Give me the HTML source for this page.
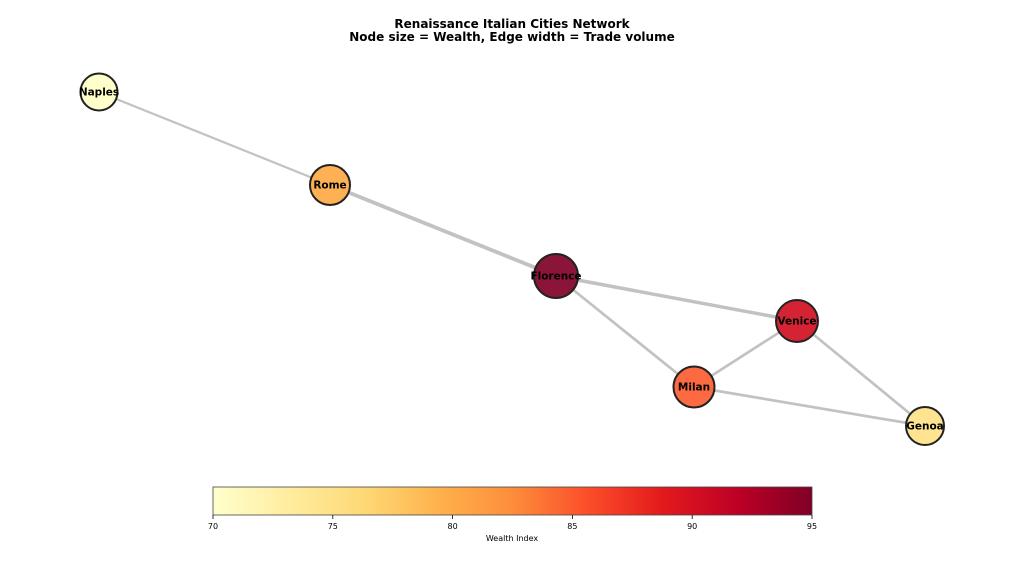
<!DOCTYPE html>
<html><head><meta charset="utf-8"><style>body{margin:0;background:#fff}svg{display:block}text{font-family:"DejaVu Sans","Liberation Sans",sans-serif}</style></head><body>
<svg width="1024" height="573" viewBox="0 0 1024 573" xmlns="http://www.w3.org/2000/svg">
<defs><linearGradient id="g" x1="0" x2="1" y1="0" y2="0">
<stop offset="0" stop-color="#ffffcc"/><stop offset="0.125" stop-color="#ffeda0"/><stop offset="0.25" stop-color="#fed976"/><stop offset="0.375" stop-color="#feb24c"/><stop offset="0.5" stop-color="#fd8d3c"/><stop offset="0.625" stop-color="#fc4e2a"/><stop offset="0.75" stop-color="#e31a1c"/><stop offset="0.875" stop-color="#bd0026"/><stop offset="1" stop-color="#800026"/></linearGradient></defs>
<text x="512" y="28" text-anchor="middle" font-size="12" font-weight="bold">Renaissance Italian Cities Network</text>
<text x="512" y="41" text-anchor="middle" font-size="12" font-weight="bold">Node size = Wealth, Edge width = Trade volume</text>
<g stroke="#bbb" stroke-opacity="0.9" fill="none">
<line x1="99" y1="92" x2="330" y2="185" stroke-width="2.2"/>
<line x1="330" y1="185" x2="556" y2="276" stroke-width="3.8"/>
<line x1="556" y1="276" x2="797" y2="321" stroke-width="3.5"/>
<line x1="556" y1="276" x2="694" y2="387" stroke-width="2.7"/>
<line x1="694" y1="387" x2="797" y2="321" stroke-width="2.7"/>
<line x1="797" y1="321" x2="925" y2="426" stroke-width="2.7"/>
<line x1="694" y1="387" x2="925" y2="426" stroke-width="2.7"/>
</g>
<g stroke="#222" stroke-width="2">
<circle cx="99" cy="92" r="18.5" fill="#ffffcc"/>
<circle cx="330" cy="185" r="20" fill="#feb054"/>
<circle cx="556" cy="276" r="22" fill="#8a1538"/>
<circle cx="797" cy="321" r="21" fill="#d42333"/>
<circle cx="694" cy="387" r="20.5" fill="#fd6940"/>
<circle cx="925" cy="426" r="19" fill="#fee391"/>
</g>
<g font-size="10.5" font-weight="bold" text-anchor="middle" fill="#000">
<text x="99" y="95.5">Naples</text><text x="330" y="188.5">Rome</text><text x="556" y="279.5">Florence</text><text x="797" y="324.5">Venice</text><text x="694" y="390.5">Milan</text><text x="925" y="429.5">Genoa</text>
</g>
<rect x="213" y="487" width="599" height="28" fill="url(#g)" stroke="#444" stroke-width="0.8"/>
<g stroke="#000" stroke-width="0.8">
<line x1="213" y1="515" x2="213" y2="519"/><line x1="332.8" y1="515" x2="332.8" y2="519"/><line x1="452.6" y1="515" x2="452.6" y2="519"/><line x1="572.4" y1="515" x2="572.4" y2="519"/><line x1="692.2" y1="515" x2="692.2" y2="519"/><line x1="812" y1="515" x2="812" y2="519"/>
</g>
<g font-size="8" text-anchor="middle">
<text x="213" y="529">70</text><text x="332.8" y="529">75</text><text x="452.6" y="529">80</text><text x="572.4" y="529">85</text><text x="692.2" y="529">90</text><text x="812" y="529">95</text>
<text x="512" y="541">Wealth Index</text>
</g>
</svg>
</body></html>
